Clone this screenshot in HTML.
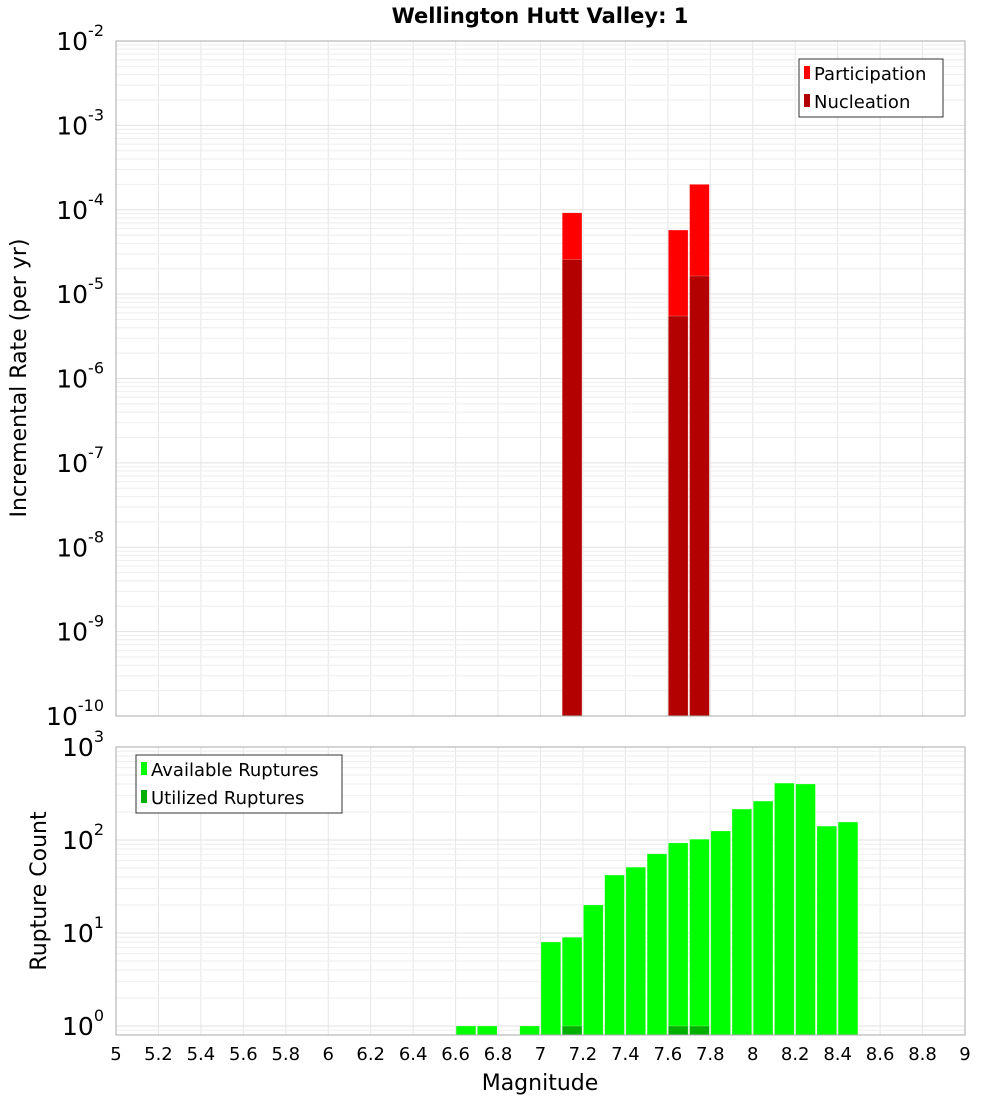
<!DOCTYPE html>
<html><head><meta charset="utf-8"><style>
body{margin:0;background:#fff;}
svg text{font-family:"DejaVu Sans","Liberation Sans",sans-serif;}
</style></head><body>
<svg id="chart" width="1000" height="1100" xmlns="http://www.w3.org/2000/svg">
<text x="540" y="23" text-anchor="middle" font-size="21" font-weight="bold">Wellington Hutt Valley: 1</text>
<g id="topplot"></g>
<g id="botplot"></g>
<text transform="translate(26,378) rotate(-90)" text-anchor="middle" font-size="22">Incremental Rate (per yr)</text>
<text transform="translate(46,891) rotate(-90)" text-anchor="middle" font-size="22">Rupture Count</text>
<text x="540" y="1090" text-anchor="middle" font-size="22">Magnitude</text>
</svg>
<script>
const partMags=[7.15,7.65,7.75];
const partVals=[9.2e-5,5.75e-5,2.0e-4];
const nuclMags=[7.15,7.65,7.75];
const nuclVals=[2.57e-5,5.5e-6,1.64e-5];
const availMags=[6.65,6.75,6.95,7.05,7.15,7.25,7.35,7.45,7.55,7.65,7.75,7.85,7.95,8.05,8.15,8.25,8.35,8.45];
const availVals=[1,1,1,8,9,20,42,51,71,93,102,125,215,262,409,400,141,156];
const usedMags=[7.15,7.65,7.75];
const usedVals=[1,1,1];
const xTicks=[5,5.2,5.4,5.6,5.8,6,6.2,6.4,6.6,6.8,7,7.2,7.4,7.6,7.8,8,8.2,8.4,8.6,8.8,9];

const NS="http://www.w3.org/2000/svg";
const X0=116,X1=965;
const xs=m=>X0+(m-5)/4*(X1-X0);
function mk(p,t,a){const e=document.createElementNS(NS,t);for(const k in a)e.setAttribute(k,a[k]);p.appendChild(e);return e;}
const topG=document.getElementById('topplot'),botG=document.getElementById('botplot');
const ysT=v=>41+(-2-Math.log10(v))*(675/8);
const ysB=v=>1026-Math.log10(v)*93;
function grid(g,yt,yb,lo,hi,ys){
  for(const t of xTicks){const l=mk(g,'line',{x1:xs(t),x2:xs(t),y1:yt,y2:yb,stroke:'#e6e6e6','stroke-width':1});
  
  }
  for(let d=lo;d<hi;d++)for(let k=1;k<10;k++){const y=ys(k*Math.pow(10,d));if(y<yt||y>yb)continue;
    const l=mk(g,'line',{x1:X0,x2:X1,y1:y,y2:y,stroke:k==1?'#e2e2e2':'#eeeeee','stroke-width':1});
    
    }
}
function bars(g,mags,vals,ys,yb,fill,name){
  mags.forEach((m,i)=>{const y=ys(vals[i]);const x=xs(m-0.05)+0.5,w=xs(m+0.05)-xs(m-0.05)-1.5;
    const r=mk(g,'rect',{x:x,y:y,width:w,height:yb-y,fill:fill,stroke:'rgba(255,255,255,0.4)','stroke-width':0.6});
    
    });
}
function yLabels(g,exps,ys,x){
  exps.forEach(e=>{const y=ys(Math.pow(10,e));const t=mk(g,'text',{x:x,y:y+9,'text-anchor':'end','font-size':25});
    
    
    t.textContent='10';const s=mk(t,'tspan',{dy:-14,'font-size':16});s.textContent=String(e);});
}
grid(topG,41,716,-10,-2,ysT);
bars(topG,partMags,partVals,ysT,716,'#ff0000','participation-bar');
bars(topG,nuclMags,nuclVals,ysT,716,'#b30000','nucleation-bar');
mk(topG,'rect',{x:X0,y:41,width:X1-X0,height:675,fill:'none',stroke:'#aaaaaa'});
yLabels(topG,[-2,-3,-4,-5,-6,-7,-8,-9,-10],ysT,104);
grid(botG,747,1035,-1,3,ysB);
bars(botG,availMags,availVals,ysB,1035,'#00ff00','available-bar');
bars(botG,usedMags,usedVals,ysB,1035,'#00b000','utilized-bar');
mk(botG,'rect',{x:X0,y:747,width:X1-X0,height:288,fill:'none',stroke:'#aaaaaa'});
yLabels(botG,[3,2,1,0],ysB,104);
xTicks.forEach(t=>{const e=mk(botG,'text',{x:xs(t),y:1060,'text-anchor':'middle','font-size':18});
  
  
  e.textContent=String(t);});
function legend(g,x,y,w,items,name){
  const lg=mk(g,'g',{});
  
  
  mk(lg,'rect',{x:x,y:y,width:w,height:58,fill:'#fff',stroke:'#333','stroke-width':1});
  items.forEach((it,i)=>{const cy=y+14+i*28;
    mk(lg,'rect',{x:x+5,y:cy-7,width:6,height:13,fill:it[1]});
    const t=mk(lg,'text',{x:x+15,y:cy+7,'font-size':18});t.textContent=it[0];
    
    });
}
legend(topG,799,59,144,[['Participation','#ff0000'],['Nucleation','#b30000']],'legend-top');
legend(botG,136,755,206,[['Available Ruptures','#00ff00'],['Utilized Ruptures','#00b000']],'legend-bottom');
</script>
</body></html>
